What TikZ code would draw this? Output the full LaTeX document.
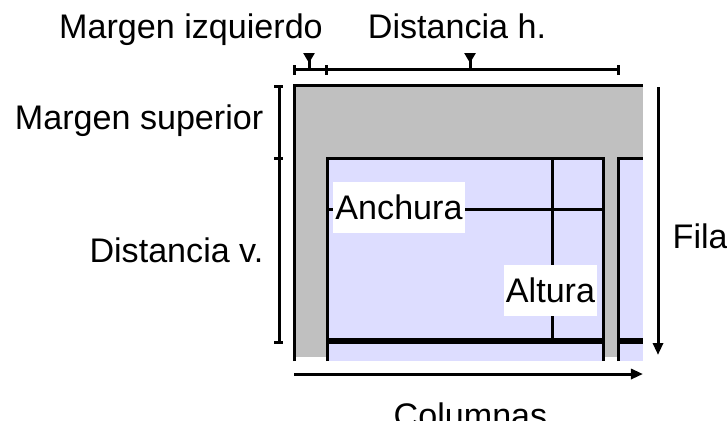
\documentclass[tikz,border=0pt]{standalone}
\usepackage{fontspec}
\setmainfont{Liberation Sans}
\usetikzlibrary{arrows.meta}
\definecolor{hoja}{HTML}{C0C0C0}
\definecolor{celda}{HTML}{DDDDFF}
\tikzset{
	linea/.style={line width=0.03cm},
	grueso/.style={line width=0.065cm},
	flecha/.style={line width=0.03cm, -{Triangle[length=0.12cm, width=0.1cm]}},
	marca/.style={line width=0.03cm, {Triangle[reversed, length=0.1cm, width=0.11cm]}-},
	etiqueta/.style={font=\fontsize{9.7}{11}\selectfont, inner sep=0pt},
	caja/.style={etiqueta, fill=white, minimum height=0.51cm, inner xsep=0.02cm}
}

\begin{document}
\begin{tikzpicture}[x=0.01cm, y=-0.01cm]
	\useasboundingbox (0,0) rectangle (727,420);
	% hoja y celdas
	\fill[hoja] (294,85) rectangle (643,357);
	\fill[celda] (327,158) rectangle (603,361);
	\fill[celda] (618,158) rectangle (643,361);
	\draw[linea] (294,361) -- (294,85) -- (643,85);
	\draw[linea] (327,361) -- (327,158) -- (603,158) -- (603,361);
	\draw[linea] (618,361) -- (618,158) -- (643,158);
	\draw[linea] (552,158) -- (552,341);
	\draw[linea] (327,209) -- (603,209);
	\draw[grueso] (327,341) -- (603,341);
	\draw[grueso] (618,341) -- (643,341);
	\node[caja] (anchura) at (399,207.5) {Anchura};
	\node[caja] (altura) at (550.5,290.5) {Altura};
	% cotas
	\coordinate (hA) at (294,69);
	\coordinate (hB) at (326,69);
	\coordinate (hC) at (618,69);
	\coordinate (vA) at (279,86);
	\coordinate (vB) at (279,158);
	\coordinate (vC) at (279,342);
	\draw[linea] (hA) -- (hC);
	\foreach \p in {hA,hB,hC}
		\draw[linea] (\p) +(0,-4) -- +(0,6);
	\draw[linea] (vA) -- (vC);
	\foreach \p in {vA,vB,vC}
		\draw[linea] (\p) +(-5,0) -- +(4,0);
	\draw[marca] (309,53) -- (309,69);
	\draw[marca] (470,53) -- (470,69);
	\coordinate (fA) at (658,87);
	\coordinate (fB) at (658,355);
	\coordinate (cA) at (294,374);
	\coordinate (cB) at (643,374);
	\draw[flecha] (fA) -- (fB);
	\draw[flecha] (cA) -- (cB);
	% textos
	\node[etiqueta, anchor=base] (mizq) at (191,38) {Margen izquierdo};
	\node[etiqueta, anchor=base] (disth) at (457,38) {Distancia h.};
	\node[etiqueta, anchor=base east] (msup) at (264,129) {Margen superior};
	\node[etiqueta, anchor=base east] (distv) at (264,262) {Distancia v.};
	\node[etiqueta, anchor=base west] (filas) at (672,248) {Filas};
	\node[etiqueta, anchor=base west] (columnas) at (393,427) {Columnas};
\end{tikzpicture}
\end{document}
